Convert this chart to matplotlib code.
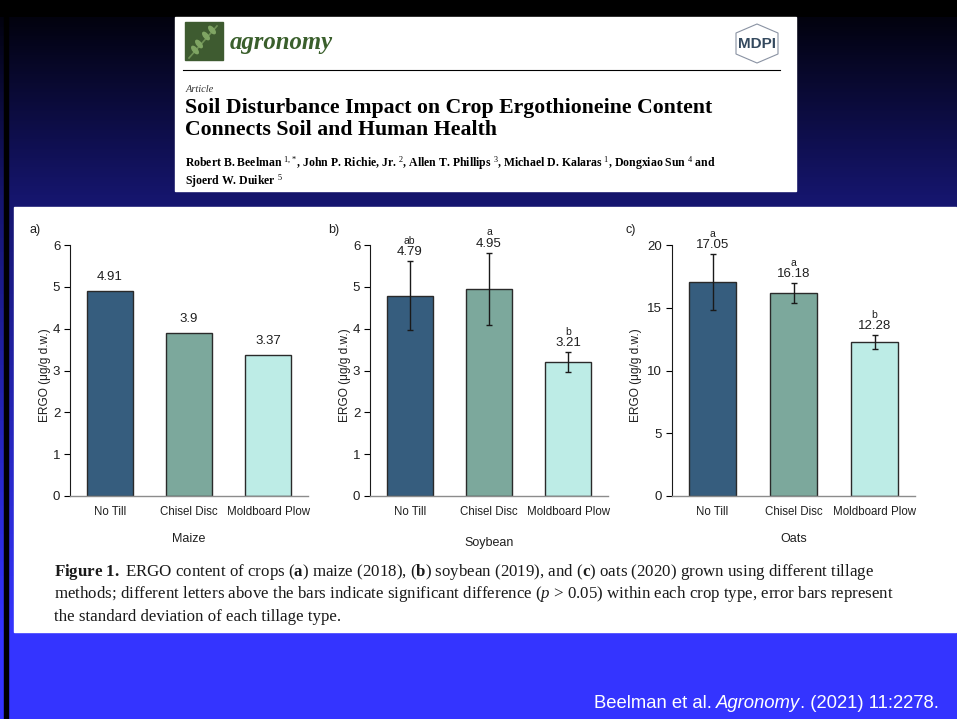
import numpy as np
import matplotlib.pyplot as plt
from matplotlib.patches import Rectangle, Polygon, Ellipse

plt.rcParams['font.family'] = ['Liberation Sans', 'DejaVu Sans']
plt.rcParams['mathtext.fontset'] = 'custom'
plt.rcParams['mathtext.rm'] = 'Liberation Serif'
plt.rcParams['mathtext.it'] = 'Liberation Serif:italic'
plt.rcParams['mathtext.bf'] = 'Liberation Serif:bold'

# data
tillage = ['No Till', 'Chisel Disc', 'Moldboard Plow']
maize = [4.91, 3.9, 3.37]
soybean = [4.79, 4.95, 3.21]
soybean_sd = [0.83, 0.87, 0.24]
soybean_letters = ['ab', 'a', 'b']
oats = [17.05, 16.18, 12.28]
oats_sd = [2.2, 0.78, 0.56]
oats_letters = ['a', 'a', 'b']
bar_colors = ['#365d7e', '#7ca89c', '#bdece6']

W, H = 957, 719
fig = plt.figure(figsize=(W / 100, H / 100), dpi=100)
bg = fig.add_axes([0, 0, 1, 1])

# slide background: black -> navy -> blue
grad_y = [0, 16, 17, 195, 632, 719]
grad_c = np.array([[0, 0, 0], [0, 0, 0], [2, 2, 14], [21, 21, 108], [52, 52, 255], [52, 52, 255]]) / 255
yy = np.arange(H)
grad = np.stack([np.interp(yy, grad_y, grad_c[:, k]) for k in range(3)], axis=1)[:, None, :]
bg.imshow(grad, extent=(0, W, H, 0), aspect='auto', zorder=0)
bg.set_xlim(0, W)
bg.set_ylim(H, 0)
bg.axis('off')

bg.add_patch(Rectangle((4, 17), 3.5, H - 17, color='black', zorder=1))
bg.add_patch(Rectangle((14, 207), 942, 425, color='white', zorder=1))
bg.add_patch(Rectangle((175, 17), 621, 174, color='white', zorder=1))

# journal header
bg.add_patch(Rectangle((185, 22), 38, 38, color='#3e5b30', zorder=2))
bg.plot([189, 217], [58, 26], color='#6f9156', lw=1.2, zorder=3)
for ex, ey in [(199, 44), (206, 36), (212, 30), (195, 50)]:
    bg.add_patch(Ellipse((ex, ey), 4, 9, angle=-40, color='#7fa563', zorder=3))
bg.text(230, 42, 'agronomy', fontfamily='Liberation Serif', style='italic', weight='bold',
        fontsize=17.8, color='#3a5f2c', va='center', zorder=3)
bg.add_patch(Polygon([(757, 24), (778, 33), (778, 54), (757, 63), (736, 54), (736, 33)],
                     closed=True, fill=False, ec='#8a93a3', lw=0.8, zorder=2))
bg.text(757, 44, 'MDPI', fontsize=11, weight='bold', color='#34495e', ha='center', va='center',
        zorder=3, bbox=dict(fc='white', ec='none', pad=1))
bg.plot([183, 780], [69.5, 69.5], color='black', lw=0.8, zorder=3)
bg.text(186, 89, 'Article', fontfamily='Liberation Serif', style='italic', fontsize=7.5,
        color='#333333', va='center', zorder=3)
bg.text(185, 108, 'Soil Disturbance Impact on Crop Ergothioneine Content',
        fontfamily='Liberation Serif', weight='bold', fontsize=15.7, va='center', zorder=3)
bg.text(185, 130, 'Connects Soil and Human Health',
        fontfamily='Liberation Serif', weight='bold', fontsize=15.7, va='center', zorder=3)
bg.text(185, 163, r'Robert B. Beelman $^{1,\!*}$, John P. Richie, Jr. $^{2}$, Allen T. Phillips $^{3}$, '
        r'Michael D. Kalaras $^{1}$, Dongxiao Sun $^{4}$ and',
        fontfamily='Liberation Serif', weight='bold', fontsize=8.5, va='center', zorder=3)
bg.text(185, 181, r'Sjoerd W. Duiker $^{5}$',
        fontfamily='Liberation Serif', weight='bold', fontsize=8.5, va='center', zorder=3)

# caption
cap = [r'$\mathbf{Figure\ 1.}$ ERGO content of crops ($\mathbf{a}$) maize (2018), ($\mathbf{b}$) soybean (2019), '
       r'and ($\mathbf{c}$) oats (2020) grown using different tillage',
       r'methods; different letters above the bars indicate significant difference ($\mathit{p}$ > 0.05) '
       r'within each crop type, error bars represent',
       'the standard deviation of each tillage type.']
for k, line in enumerate(cap):
    bg.text(54, 572 + 22.3 * k, line, fontfamily='Liberation Serif', fontsize=12.2,
            color='#1a1a1a', va='center', zorder=3)

# footer citation
r = fig.canvas.get_renderer()
fx = 594
for s, st in [('Beelman et al.', 'normal'), ('Agronomy', 'italic'), ('. (2021) 11:2278.', 'normal')]:
    t = bg.text(fx, 703, s, fontsize=13.3, style=st, color='white', va='center', zorder=3)
    fx += t.get_window_extent(renderer=r).width + (4 if s == 'Beelman et al.' else 0)

bg.text(30, 230, 'a)', fontsize=9, color='#1f1f1f', va='center', zorder=3)
bg.text(328, 230, 'b)', fontsize=9, color='#1f1f1f', va='center', zorder=3)
bg.text(625, 230, 'c)', fontsize=9, color='#1f1f1f', va='center', zorder=3)


def panel(left, right, vals, sd, letters, ymax, step, xlabel, xpad, ylab_x):
    ax = fig.add_axes([left / W, (H - 496) / H, (right - left) / W, (496 - 245) / H])
    x = np.arange(len(vals))
    ax.bar(x, vals, width=0.58, color=bar_colors, edgecolor='#2a2a2a', linewidth=1, zorder=2)
    if sd is not None:
        ax.errorbar(x, vals, yerr=sd, fmt='none', ecolor='#1a1a1a', elinewidth=1,
                    capsize=2, capthick=1, zorder=3)
        for i in range(len(vals)):
            top = vals[i] + sd[i]
            ax.annotate(f'{vals[i]:g}', (i, top), xytext=(0, 6.5), textcoords='offset points',
                        ha='center', va='center', fontsize=9.5, color='#1f1f1f')
            ax.annotate(letters[i], (i, top), xytext=(0, 14.5), textcoords='offset points',
                        ha='center', va='center', fontsize=7.5, color='#1f1f1f')
    else:
        for i in range(len(vals)):
            ax.annotate(f'{vals[i]:g}', (i, vals[i]), xytext=(0, 10), textcoords='offset points',
                        ha='center', va='center', fontsize=9.5, color='#1f1f1f')
    ax.set_xlim(-0.5, len(vals) - 0.5)
    ax.set_ylim(0, ymax)
    ax.set_yticks(np.arange(0, ymax + step, step))
    ax.set_xticks(x)
    ax.set_xticklabels(tillage)
    ax.spines['top'].set_visible(False)
    ax.spines['right'].set_visible(False)
    ax.spines['left'].set_color('#1a1a1a')
    ax.spines['left'].set_linewidth(0.8)
    ax.spines['bottom'].set_color('#8c8c8c')
    ax.spines['bottom'].set_linewidth(1)
    ax.tick_params(axis='y', direction='out', length=4, width=0.8, labelsize=9.5,
                   labelcolor='#1f1f1f', pad=3)
    ax.tick_params(axis='x', length=0, labelsize=8.3, labelcolor='#1f1f1f', pad=7)
    ax.set_ylabel('ERGO (μg/g d.w.)', fontsize=8.6, color='#1f1f1f')
    ax.yaxis.set_label_coords(ylab_x, 0.48)
    ax.set_xlabel(xlabel, fontsize=9, color='#1f1f1f', labelpad=xpad)
    ax.set_facecolor('white')
    return ax


panel(70, 308, maize, None, None, 6, 1, 'Maize', 11, -0.08)
panel(370, 608, soybean, soybean_sd, soybean_letters, 6, 1, 'Soybean', 14, -0.08)
panel(672, 915, oats, oats_sd, oats_letters, 20, 5, 'Oats', 11, -0.125)

fig.savefig('out.png', dpi=100)
